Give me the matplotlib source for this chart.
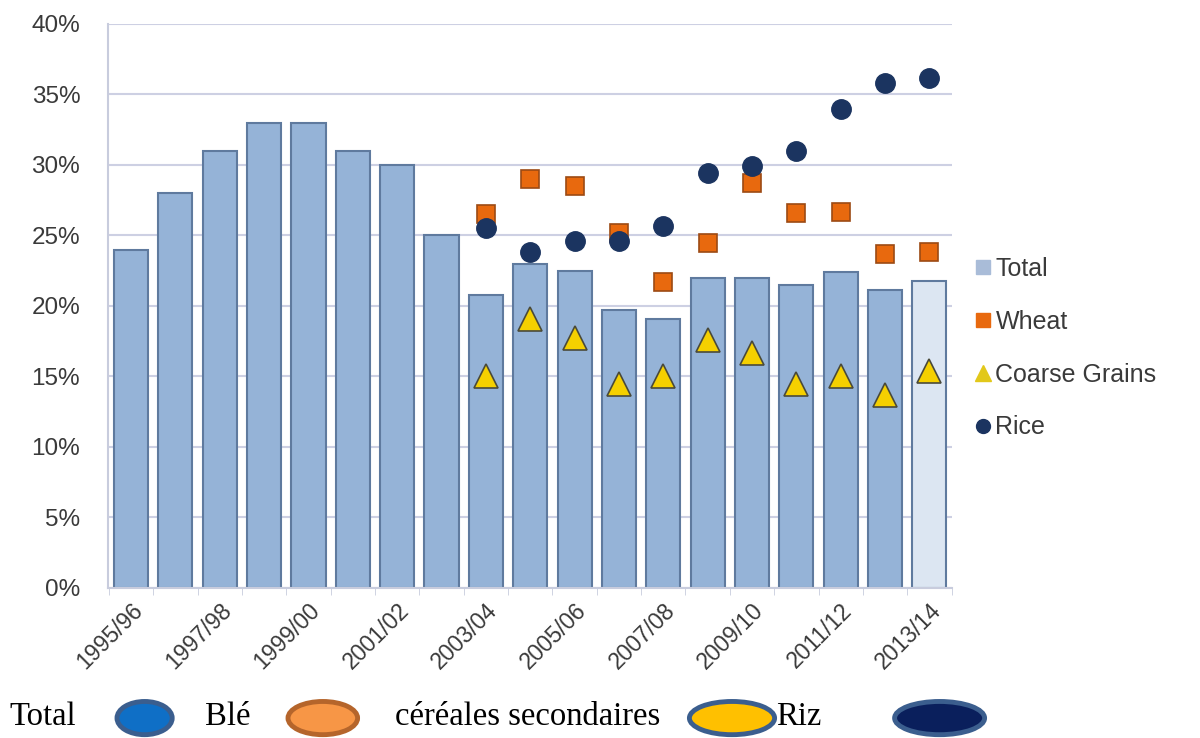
import numpy as np
import matplotlib.pyplot as plt
from matplotlib.patches import Ellipse
from matplotlib.lines import Line2D

plt.rcParams['font.family'] = ['Liberation Sans', 'DejaVu Sans']

seasons = ['1995/96', '1996/97', '1997/98', '1998/99', '1999/00', '2000/01',
           '2001/02', '2002/03', '2003/04', '2004/05', '2005/06', '2006/07',
           '2007/08', '2008/09', '2009/10', '2010/11', '2011/12', '2012/13',
           '2013/14']
total = [24.0, 28.0, 31.0, 33.0, 33.0, 31.0, 30.0, 25.0, 20.8, 23.0, 22.5,
         19.7, 19.1, 22.0, 22.0, 21.5, 22.4, 21.1, 21.8]
# crop series start in 2003/04
wheat = [26.5, 29.0, 28.5, 25.2, 21.7, 24.5, 28.7, 26.6, 26.7, 23.7, 23.8]
coarse = [15.0, 19.1, 17.7, 14.5, 15.0, 17.6, 16.7, 14.5, 15.0, 13.7, 15.4]
rice = [25.5, 23.8, 24.6, 24.6, 25.7, 29.4, 29.9, 31.0, 34.0, 35.8, 36.2]
yticks = [0, 5, 10, 15, 20, 25, 30, 35, 40]

fig = plt.figure(figsize=(12, 7.38), dpi=100)
ax = fig.add_axes([0.09, 0.2033, 0.703, 0.7642])

x = np.arange(len(seasons))
colors = ['#95B3D7'] * (len(seasons) - 1) + ['#DCE6F2']
ax.bar(x, total, width=0.77, color=colors, edgecolor='#5F7A9E',
       linewidth=1.5, zorder=2)

xs = x[len(seasons) - len(wheat):]
ax.plot(xs, wheat, 's', ms=13.5, color='#E8690E', mec='#9C4A14', mew=1.2,
        zorder=3)
ax.plot(xs, coarse, '^', ms=17, color='#F5D000', mec='#4A4A3A', mew=1.2,
        zorder=3)
ax.plot(xs, rice, 'o', ms=14, color='#1B3460', mec='#1B3460', zorder=3)

ax.set_xlim(-0.52, 18.5)
ax.set_ylim(0, 40)
ax.set_yticks(yticks)
ax.set_yticklabels([f'{v}%' for v in yticks], fontsize=17.5, color='#3A3A3A')
ax.yaxis.grid(True, color='#CDD0E3', linewidth=1.5, zorder=0)
ax.set_axisbelow(True)
ax.tick_params(axis='y', length=0, pad=20)

ax.set_xticks(x[::2])
ax.set_xticklabels(seasons[::2], rotation=45, ha='right', rotation_mode='anchor',
                   fontsize=16.5, color='#3A3A3A')
ax.set_xticks(np.arange(-0.5, len(seasons)), minor=True)
ax.tick_params(axis='x', which='major', length=0, pad=8)
ax.tick_params(axis='x', which='minor', length=5, color='#C8CCDD')

for side in ['top', 'right']:
    ax.spines[side].set_visible(False)
ax.spines['left'].set_color('#C8CCDD')
ax.spines['left'].set_linewidth(1.5)
ax.spines['bottom'].set_color('#C8CCDD')
ax.spines['bottom'].set_linewidth(1.5)

handles = [
    Line2D([], [], ls='', marker='s', ms=10, color='#A9BCD8', label='Total'),
    Line2D([], [], ls='', marker='s', ms=10, color='#E8690E', label='Wheat'),
    Line2D([], [], ls='', marker='^', ms=11, color='#E2C81A',
           label='Coarse Grains'),
    Line2D([], [], ls='', marker='o', ms=10, color='#1B3460', label='Rice'),
]
ax.legend(handles=handles, loc='center left', bbox_to_anchor=(1.012, 0.425),
          frameon=False, fontsize=18, handletextpad=0.05, labelspacing=1.15,
          handlelength=0.9, borderaxespad=0, labelcolor='#3A3A3A')

# French caption row with coloured ellipses
serif = ['Liberation Serif', 'DejaVu Serif']
labels_fr = [('Total', 0.008), ('Blé', 0.171), ('céréales secondaires', 0.329),
             ('Riz', 0.647)]
for txt, xp in labels_fr:
    fig.text(xp, 0.029, txt, fontsize=23.5, family=serif, color='black',
             va='center')
ellipses = [(0.1205, '#0F6FC6', '#3B5E8E', 0.046),
            (0.269, '#F79646', '#B5652B', 0.058),
            (0.61, '#FFC000', '#3B5E8E', 0.071),
            (0.783, '#0A1F5C', '#3B5E8E', 0.075)]
for xc, fc, ec, w in ellipses:
    fig.add_artist(Ellipse((xc, 0.027), w, 0.045, transform=fig.transFigure,
                           facecolor=fc, edgecolor=ec, linewidth=3.5))

fig.savefig('out.png', dpi=100)
